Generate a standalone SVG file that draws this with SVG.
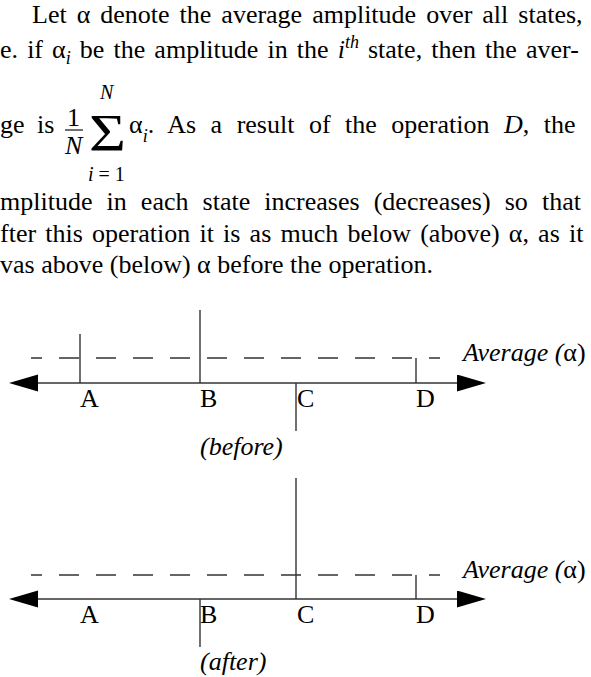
<svg xmlns="http://www.w3.org/2000/svg" width="591" height="677" viewBox="0 0 591 677">
<style>
.t{font-family:"Liberation Serif","Times New Roman",serif;font-size:26px;fill:#000}
.it{font-style:italic}
.sm{font-size:18px}
.lim{font-size:20px}
.big{font-size:52px}
.ln{stroke:#333;stroke-width:1.4;fill:none}
.ds{stroke:#333;stroke-width:1.4;fill:none;stroke-dasharray:20 17;stroke-dashoffset:9}
</style>
<defs>
<marker id="ah" markerUnits="userSpaceOnUse" markerWidth="30" markerHeight="18" refX="0" refY="8.5" orient="auto-start-reverse">
<path d="M0,0 L29,8.5 L0,17 Z" fill="#000"/>
</marker>
</defs>
<g id="paragraph">
<text class="t" x="32" y="23" word-spacing="3.5">Let α denote the average amplitude over all states,</text>
<text class="t" x="0" y="58" word-spacing="2.6">e. if α<tspan class="it sm" dy="6">i</tspan><tspan dy="-6"> be the amplitude in the </tspan><tspan class="it">i</tspan><tspan class="it sm" dy="-10">th</tspan><tspan dy="10"> state, then the aver-</tspan></text>
<text class="t" x="0" y="133" word-spacing="6">ge is</text>
<text class="t" x="67" y="126">1</text>
<line class="ln" x1="65" y1="130" x2="83" y2="130"/>
<text class="t it" x="65" y="154">N</text>
<text class="t it lim" x="100" y="99">N</text>
<text class="t big" transform="translate(89,151) scale(1.22,1)">Σ</text>
<text class="t lim" x="88" y="181"><tspan class="it">i</tspan> = 1</text>
<text class="t" x="129" y="133">α<tspan class="it sm" dy="9">i</tspan><tspan dy="-9" word-spacing="8">. As a result of the operation </tspan><tspan class="it">D</tspan><tspan word-spacing="8">, the</tspan></text>
<text class="t" x="0" y="210" word-spacing="7.6">mplitude in each state increases (decreases) so that</text>
<text class="t" x="0" y="242" word-spacing="2.7">fter this operation it is as much below (above) α, as it</text>
<text class="t" x="0" y="273">vas above (below) α before the operation.</text>
</g>
<g id="before">
<line class="ds" x1="31" y1="358" x2="440" y2="358"/>
<line class="ln" x1="38" y1="383" x2="457" y2="383" marker-start="url(#ah)" marker-end="url(#ah)"/>
<line class="ln" x1="80" y1="334" x2="80" y2="383"/>
<line class="ln" x1="200" y1="310" x2="200" y2="383"/>
<line class="ln" x1="296" y1="383" x2="296" y2="431"/>
<line class="ln" x1="416" y1="358" x2="416" y2="383"/>
<text class="t" x="80" y="407">A</text>
<text class="t" x="200" y="407">B</text>
<text class="t" x="297" y="407">C</text>
<text class="t" x="416" y="407">D</text>
<text class="t" x="463" y="361"><tspan class="it">Average (</tspan>α)</text>
<text class="t it" x="200" y="455">(before)</text>
</g>
<g id="after">
<line class="ds" x1="31" y1="575" x2="440" y2="575"/>
<line class="ln" x1="38" y1="599" x2="457" y2="599" marker-start="url(#ah)" marker-end="url(#ah)"/>
<line class="ln" x1="200" y1="599" x2="200" y2="647"/>
<line class="ln" x1="296" y1="478" x2="296" y2="599"/>
<line class="ln" x1="416" y1="575" x2="416" y2="599"/>
<text class="t" x="80" y="623">A</text>
<text class="t" x="200" y="623">B</text>
<text class="t" x="297" y="623">C</text>
<text class="t" x="416" y="623">D</text>
<text class="t" x="463" y="578"><tspan class="it">Average (</tspan>α)</text>
<text class="t it" x="200" y="670">(after)</text>
</g>
</svg>
